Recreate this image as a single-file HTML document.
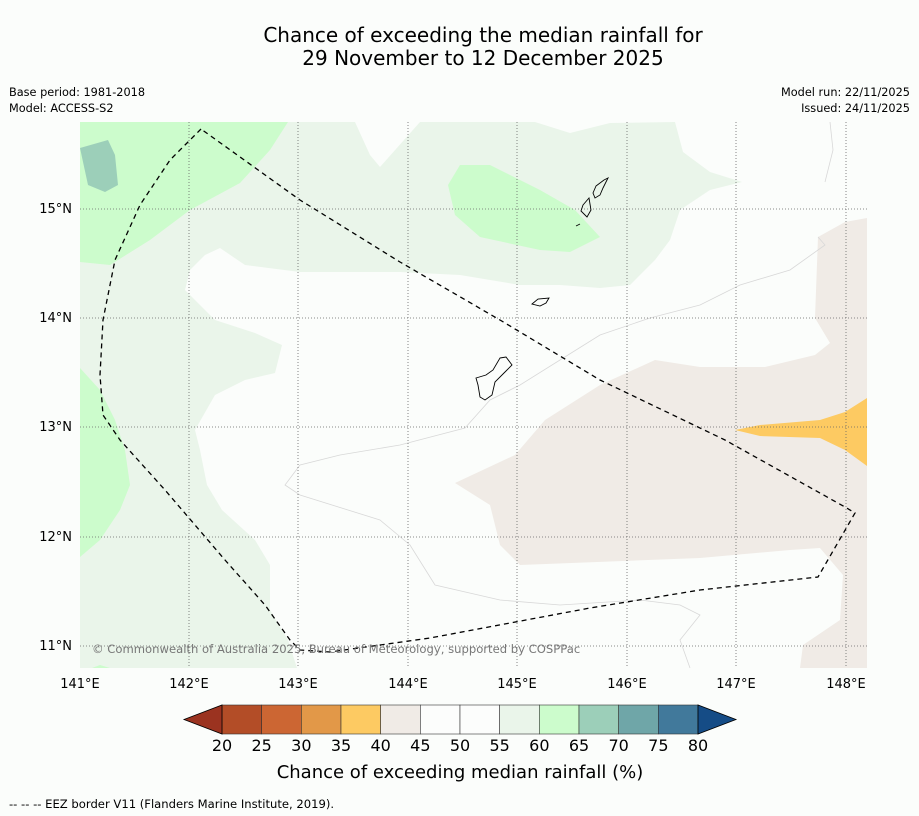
<!DOCTYPE html>
<html><head><meta charset="utf-8"><style>
body{margin:0;background:#fbfdfb;}
svg{display:block;font-family:"DejaVu Sans","Liberation Sans",sans-serif;}
</style></head><body>
<svg width="919" height="816" viewBox="0 0 919 816">
<rect width="919" height="816" fill="#fbfdfb"/>
<text x="483" y="42" font-size="20" text-anchor="middle">Chance of exceeding the median rainfall for</text>
<text x="483" y="65" font-size="20" text-anchor="middle">29 November to 12 December 2025</text>
<text x="9" y="96" font-size="11.3">Base period: 1981-2018</text>
<text x="9" y="112" font-size="11.3">Model: ACCESS-S2</text>
<text x="910" y="96" font-size="11.3" text-anchor="end">Model run: 22/11/2025</text>
<text x="910" y="112" font-size="11.3" text-anchor="end">Issued: 24/11/2025</text>
<g>
<rect x="80" y="122" width="787" height="546" fill="#eaf5ea"/>
<polygon fill="#fbfdfb" points="420,122 535,122 570,133 610,123 675,122 683,152 710,172 742,182 710,190 680,210 670,240 655,260 630,285 600,288 560,285 520,285 460,275 400,272 300,272 245,265 220,248 205,255 190,270 185,290 200,305 215,320 255,333 282,345 275,373 245,380 215,395 195,430 200,450 207,485 222,510 255,540 270,565 270,610 288,640 297,668 590,668 605,668 867,668 867,122"/>
<polygon fill="#fbfdfb" points="355,122 420,122 380,167 370,155"/>
<polygon fill="#f0ebe6" points="455,483 490,505 500,545 520,565 700,558 790,550 820,548 843,575 840,620 803,645 800,668 867,668 867,218 845,222 818,237 815,318 830,343 815,355 765,367 700,367 655,360 600,385 545,420 515,455"/>
<polygon fill="#fdca62" points="735,430 760,425 820,420 845,412 867,398 867,466 845,450 820,438 760,436"/>
<polygon fill="#ccfccc" points="80,122 288,122 270,150 240,183 190,210 150,240 110,265 80,262"/>
<polygon fill="#9ccfb9" points="80,148 108,140 115,155 118,185 105,192 88,185"/>
<polygon fill="#ccfccc" points="460,165 490,165 540,190 575,210 600,237 570,252 540,250 480,237 455,215 448,185"/>
<polygon fill="#ccfccc" points="80,368 100,390 115,420 125,450 130,485 120,510 100,540 80,557"/>
<polygon fill="#ccfccc" points="92,668 100,665 110,668"/>
<polyline fill="none" stroke="#d8d8d8" stroke-width="0.8" points="690,668 680,640 700,615 680,605 640,600 560,605 500,600 435,585 410,545 380,520 300,495 285,485 300,465 340,455 400,445 465,428 490,400 520,385 560,360 600,335 650,318 700,305 740,285 790,270 825,245 818,237"/>
<polyline fill="none" stroke="#d8d8d8" stroke-width="0.8" points="830,122 833,150 825,182"/>
<g stroke="#666" stroke-width="0.8" stroke-dasharray="1,2">
<line x1="189" y1="122" x2="189" y2="668"/><line x1="298" y1="122" x2="298" y2="668"/><line x1="408" y1="122" x2="408" y2="668"/><line x1="517" y1="122" x2="517" y2="668"/><line x1="627" y1="122" x2="627" y2="668"/><line x1="736" y1="122" x2="736" y2="668"/><line x1="846" y1="122" x2="846" y2="668"/>
<line x1="80" y1="209" x2="867" y2="209"/><line x1="80" y1="318" x2="867" y2="318"/><line x1="80" y1="427" x2="867" y2="427"/><line x1="80" y1="537" x2="867" y2="537"/><line x1="80" y1="646" x2="867" y2="646"/>
</g>
<g fill="none" stroke="#000" stroke-width="0.9">
<path d="M500,358 L506,357 L512,365 L505,372 L495,382 L492,395 L485,400 L480,397 L478,385 L476,378 L486,375 L493,370 Z"/>
<path d="M532,304 L538,299 L549,298 L546,303 L540,306 Z"/>
<path d="M583,205 L589,198 L591,210 L587,217 L581,211 Z"/>
<path d="M596,186 L604,180 L608,178 L603,188 L600,195 L595,198 L593,193 Z"/>
<path d="M576,226 L580,224"/>
</g>
<polygon fill="none" stroke="#000" stroke-width="1.3" stroke-dasharray="5,4" points="201,129 170,160 140,205 115,260 103,320 100,375 103,415 120,440 165,490 225,560 265,605 290,640 300,650 330,652 430,638 590,608 700,590 818,577 855,513 845,507 725,440 600,380 500,320 400,262 300,200"/>
<text x="92" y="653" font-size="11.6" fill="#777">© Commonwealth of Australia 2025, Bureau of Meteorology, supported by COSPPac</text>
</g>
<g font-size="13">
<text x="72" y="213" text-anchor="end">15°N</text><text x="72" y="322" text-anchor="end">14°N</text><text x="72" y="431" text-anchor="end">13°N</text><text x="72" y="541" text-anchor="end">12°N</text><text x="72" y="650" text-anchor="end">11°N</text>
</g>
<g font-size="13" text-anchor="middle">
<text x="80" y="688">141°E</text><text x="189" y="688">142°E</text><text x="298" y="688">143°E</text><text x="408" y="688">144°E</text><text x="517" y="688">145°E</text><text x="627" y="688">146°E</text><text x="736" y="688">147°E</text><text x="846" y="688">148°E</text>
</g>
<g id="cbar"></g>
<text x="460" y="778" font-size="18" text-anchor="middle">Chance of exceeding median rainfall (%)</text>
<text x="9" y="808" font-size="11.6">--  --  -- EEZ border V11 (Flanders Marine Institute, 2019).</text>
</svg>
<script>
const levels=[20,25,30,35,40,45,50,55,60,65,70,75,80];
const colors=["#b34d27","#cc6633","#e29848","#fdca62","#f0ebe6","#fcfdfc","#fcfdfc","#eaf5ea","#ccfccc","#9ccfb9","#6fa6a8","#41799b"];
const extColors=["#9b3320","#154c86"];
const x0=222,x1=698,y0=705,y1=734;
const sx=v=>x0+(v-levels[0])/(levels[levels.length-1]-levels[0])*(x1-x0);
const g=document.getElementById('cbar');
const NS="http://www.w3.org/2000/svg";
function mk(t,a){const e=document.createElementNS(NS,t);for(const k in a)e.setAttribute(k,a[k]);g.appendChild(e);return e;}
for(let i=0;i<colors.length;i++){
 const r=mk('rect',{x:sx(levels[i]),y:y0,width:sx(levels[i+1])-sx(levels[i]),height:y1-y0,fill:colors[i],stroke:'#333','stroke-width':0.6});
 
 
}
const l=mk('polygon',{points:`${x0},${y0} ${x0},${y1} 184,${(y0+y1)/2}`,fill:extColors[0],stroke:'#000','stroke-width':0.8});


const r2=mk('polygon',{points:`${x1},${y0} ${x1},${y1} 736,${(y0+y1)/2}`,fill:extColors[1],stroke:'#000','stroke-width':0.8});


levels.forEach(v=>{const t=mk('text',{x:sx(v),y:751,'font-size':16,'text-anchor':'middle'});t.textContent=v;
 
 });
</script>
</body></html>
